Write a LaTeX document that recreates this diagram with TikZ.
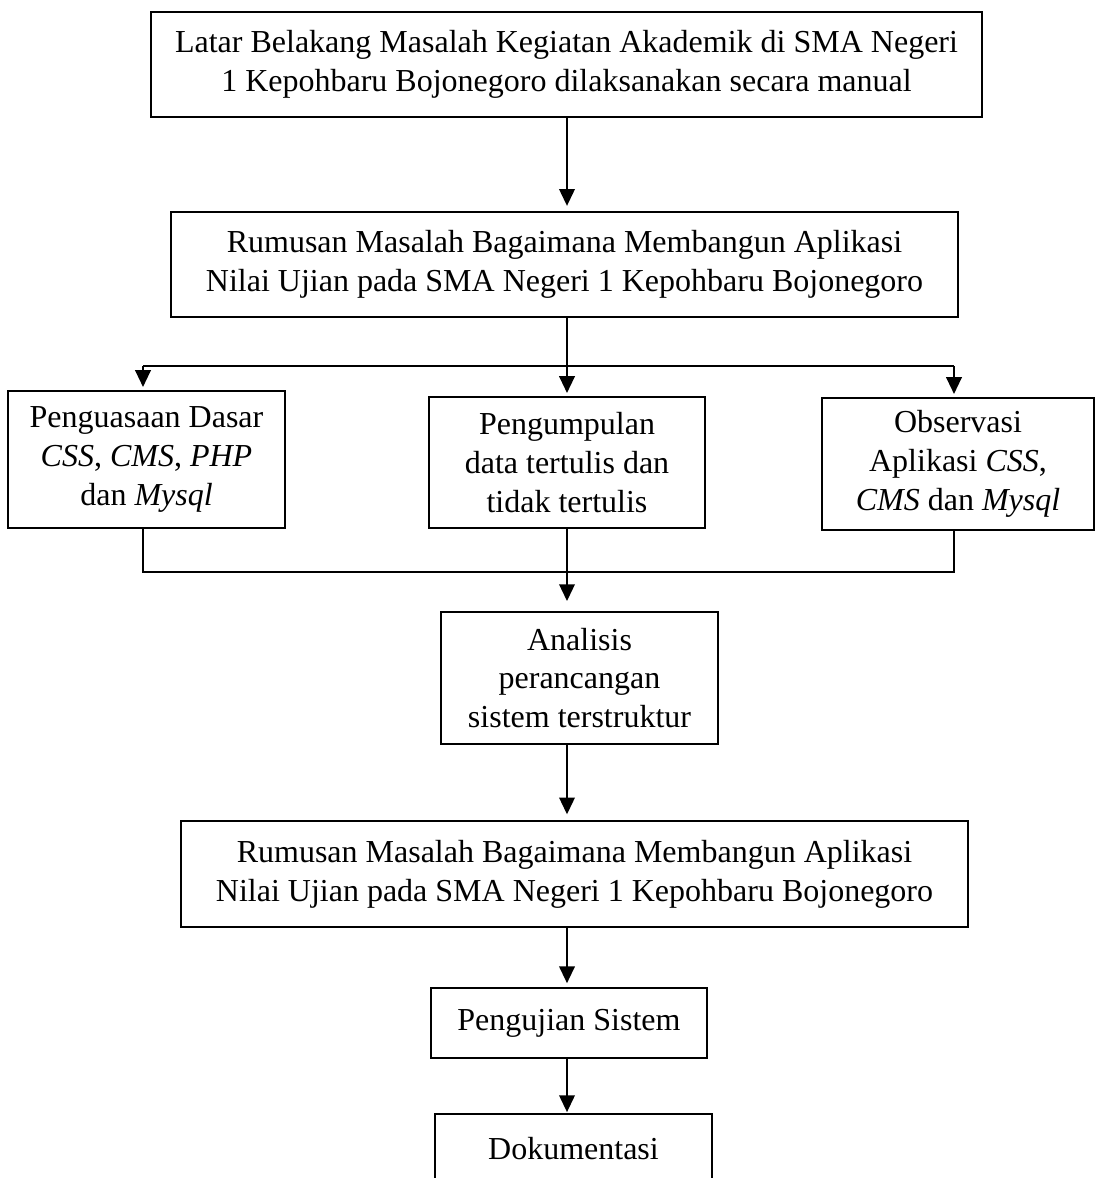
\documentclass[tikz,border=0pt]{standalone}
\usepackage{fontspec}
\setmainfont{Liberation Serif}
\usetikzlibrary{arrows.meta}

\begin{document}
\begin{tikzpicture}[x=0.375pt, y=-0.375pt,
  kotak/.style={draw, line width=0.6pt, align=center, inner sep=0pt,
    font=\fontsize{12}{14.6}\selectfont},
  panah/.style={-{Triangle[length=6.3pt,width=5.8pt]}, line width=0.8pt},
  garis/.style={line width=0.6pt}]
  %tikz  Kerangka pemikiran, alur penelitian
  \def\px{0.375pt}
  \clip (0,0) rectangle (1095,1178);
  \node[kotak, minimum width=831*\px, minimum height=105*\px] (latar) at (566.5,64.5)
    {Latar Belakang Masalah Kegiatan Akademik di SMA Negeri\\1 Kepohbaru Bojonegoro dilaksanakan secara manual};
  \node[kotak, minimum width=787*\px, minimum height=105*\px] (rumusan) at (564.5,264.5)
    {Rumusan Masalah Bagaimana Membangun Aplikasi\\Nilai Ujian pada SMA Negeri 1 Kepohbaru Bojonegoro};
  \node[kotak, minimum width=277*\px, minimum height=137*\px] (dasar) at (146.5,459.5)
    {Penguasaan Dasar\\\textit{CSS}, \textit{CMS}, \textit{PHP}\\dan \textit{Mysql}};
  \node[kotak, minimum width=276*\px, minimum height=131*\px] (kumpul) at (567,462.5)
    {Pengumpulan\\data tertulis dan\\tidak tertulis};
  \node[kotak, minimum width=272*\px, minimum height=132*\px] (observasi) at (958,464)
    {Observasi\\Aplikasi \textit{CSS},\\\textit{CMS} dan \textit{Mysql}};
  \node[kotak, minimum width=277*\px, minimum height=132*\px] (analisis) at (579.5,678)
    {Analisis\\perancangan\\sistem terstruktur};
  \node[kotak, minimum width=787*\px, minimum height=106*\px] (rumusanb) at (574.5,874)
    {Rumusan Masalah Bagaimana Membangun Aplikasi\\Nilai Ujian pada SMA Negeri 1 Kepohbaru Bojonegoro};
  \node[kotak, minimum width=276*\px, minimum height=70*\px] (uji) at (569,1023)
    {Pengujian Sistem};
  \node[kotak, minimum width=277*\px, minimum height=70*\px] (dokumen) at (573.5,1149)
    {Dokumentasi};

  \coordinate (cabang) at (567,366);
  \coordinate (kiri) at (143,366);
  \coordinate (kanan) at (954,366);
  \coordinate (gabung) at (567,572);

  \draw[panah, shorten >=2pt] (latar.south -| cabang) -- (rumusan.north -| cabang);
  \draw[line width=0.8pt] (rumusan.south -| cabang) -- (cabang);
  \draw[line width=0.8pt] (kiri) -- (kanan);
  \foreach \n/\c in {dasar/kiri, kumpul/cabang, observasi/kanan}{
    \draw[panah, shorten >=1.2pt] (\c) -- (\n.north -| \c);
  }
  \draw[garis] (dasar.south -| kiri) -- (kiri |- gabung) -- (kanan |- gabung) -- (observasi.south -| kanan);
  \draw[panah, shorten >=3.8pt] (kumpul.south) -- (analisis.north -| kumpul);
  \draw[panah, shorten >=2.2pt] (analisis.south -| kumpul) -- (rumusanb.north -| kumpul);
  \draw[panah, shorten >=1.5pt] (rumusanb.south -| kumpul) -- (uji.north -| kumpul);
  \draw[panah, shorten >=0.4pt] (uji.south -| kumpul) -- (dokumen.north -| kumpul);
\end{tikzpicture}
\end{document}
